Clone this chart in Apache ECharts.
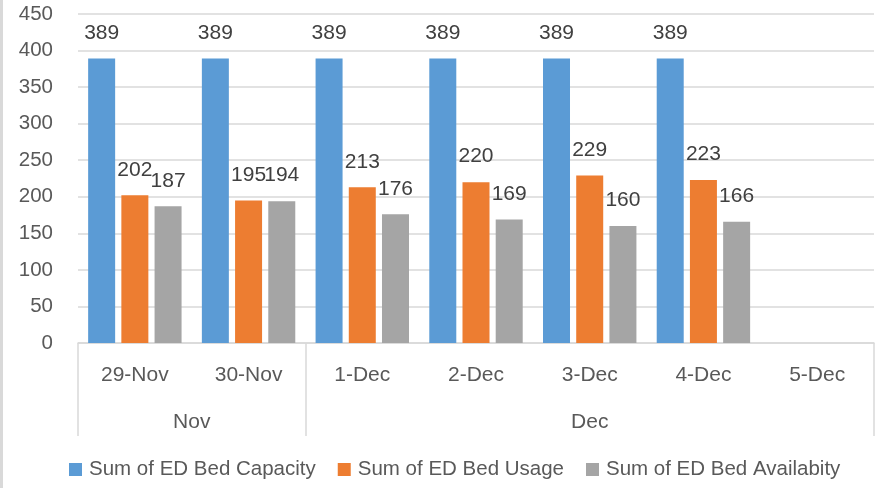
<!DOCTYPE html>
<html>
<head>
<meta charset="utf-8">
<script src="https://cdn.jsdelivr.net/npm/echarts@6/dist/echarts.min.js"></script>
<style>
  html, body { margin: 0; padding: 0; background: #fff; }
  #chart { width: 878px; height: 488px; box-sizing: border-box; border-left: 3px solid #d9d9d9; }
</style>
</head>
<body>
<div id="chart"></div>
<script>
// data
var days = ['29-Nov', '30-Nov', '1-Dec', '2-Dec', '3-Dec', '4-Dec', '5-Dec'];
var months = ['Nov', 'Dec'];
var monthSpans = [2, 5]; // how many days each month covers
var capacity = [389, 389, 389, 389, 389, 389, null];
var usage = [202, 195, 213, 220, 229, 223, null];
var availability = [187, 194, 176, 169, 160, 166, null];
var seriesNames = ['Sum of ED Bed Capacity', 'Sum of ED Bed Usage', 'Sum of ED Bed Availabity'];
var colors = ['#5b9bd5', '#ed7d31', '#a5a5a5'];

// group boundaries + centres for the month row
var bounds = [0], centres = [];
monthSpans.forEach(function (n, i) {
    var start = bounds[bounds.length - 1];
    bounds.push(start + n);
    centres.push(start + n / 2);
});

var font = 'Liberation Sans';
var chartDom = document.getElementById('chart');
var myChart = echarts.init(chartDom);

function barSeries(i, data) {
    return {
        name: seriesNames[i],
        type: 'bar',
        data: data,
        barWidth: 27,
        barGap: '23%',
        itemStyle: { color: colors[i] },
        label: {
            show: true,
            position: 'top',
            distance: 15,
            color: '#404040',
            fontFamily: font,
            fontSize: 21
        }
    };
}

var option = {
    animation: false,
    textStyle: { fontFamily: font },
    grid: { left: 75, right: 4, top: 14, bottom: 145, containLabel: false },
    legend: {
        left: 61,
        bottom: 3,
        icon: 'rect',
        itemWidth: 13,
        itemHeight: 13,
        itemGap: 22,
        textStyle: { color: '#595959', fontSize: 20.5, fontFamily: font, padding: [0, 0, 0, 2] },
        data: seriesNames
    },
    xAxis: [{
        type: 'category',
        data: days,
        axisLine: { lineStyle: { color: '#d9d9d9', width: 1.5 } },
        axisTick: { show: false },
        axisLabel: { color: '#595959', fontSize: 21, margin: 22, fontFamily: font }
    }, {
        // month row, drawn with a value axis over the same width
        type: 'value',
        position: 'bottom',
        min: 0,
        max: days.length,
        splitLine: { show: false },
        axisLine: { show: false },
        axisTick: {
            show: true,
            customValues: bounds,
            length: 93,
            lineStyle: { color: '#d9d9d9', width: 1.5 }
        },
        axisLabel: {
            customValues: centres,
            formatter: function (v) { return months[centres.indexOf(v)]; },
            color: '#595959',
            fontSize: 21,
            margin: 69,
            fontFamily: font
        }
    }],
    yAxis: {
        type: 'value',
        min: 0,
        max: 450,
        interval: 50,
        axisLine: { show: false },
        axisTick: { show: false },
        splitLine: { lineStyle: { color: '#d9d9d9', width: 1.5 } },
        axisLabel: { color: '#595959', fontSize: 20.5, margin: 25, fontFamily: font }
    },
    series: [
        barSeries(0, capacity),
        barSeries(1, usage),
        barSeries(2, availability)
    ]
};
myChart.setOption(option);
</script>
</body>
</html>
